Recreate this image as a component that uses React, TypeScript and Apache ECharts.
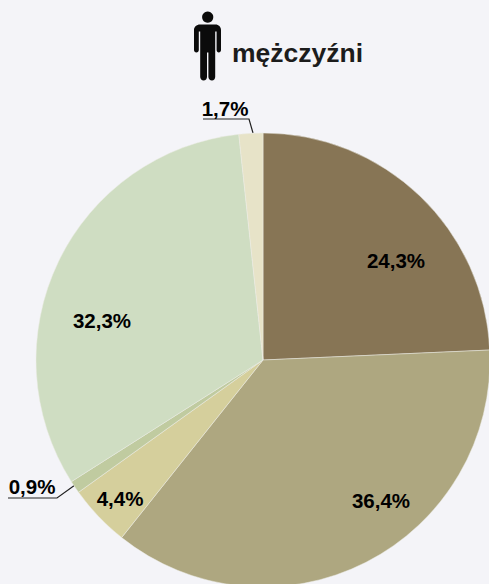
import React, { useEffect, useRef } from "react";
import * as echarts from "echarts";

const categories = ["a", "b", "c", "d", "e", "f"];
const values = [24.3, 36.4, 4.4, 0.9, 32.3, 1.7];
const labels = ["24,3%", "36,4%", "4,4%", "0,9%", "32,3%", "1,7%"];
const colors = ["#877555", "#AEA780", "#D5CF9C", "#C0CBA0", "#CFDDC2", "#E7E3C8"];
const labelSpots: [number, number][] = [
  [396, 260], [381, 500], [120, 498], [32, 486], [102, 320], [225, 108],
];
const leaders: Record<number, number[][]> = {
  3: [[8, 498], [57, 498], [75, 485]],
  5: [[203, 119], [249, 119], [253, 133]],
};

const personPath =
  "M13.7 0a5.6 5.6 0 1 1-0.01 0Z M6 13H21.5C24.6 13 27 15.4 27 18.5V38.5C27 40 26 41 24.8 41C23.6 41 22.6 40 22.6 38.5V20H21.2V65.5C21.2 67.4 19.8 69 18 69C16 69 14.4 67.4 14.4 65.5V41H13V65.5C13 67.4 11.6 69 9.6 69C7.8 69 6.2 67.4 6.2 65.5V20H4.8V38.5C4.8 40 3.8 41 2.4 41C1 41 0 40 0 38.5V18.5C0 15.4 2.6 13 6 13Z";

echarts.graphic.registerShape("person", echarts.graphic.extendPath(personPath, {}) as any);

export default function App() {
  const ref = useRef<HTMLDivElement>(null);
  useEffect(() => {
    document.body.style.margin = "0";
    document.body.style.overflow = "hidden";
    const chart = echarts.init(ref.current!, null, { renderer: "svg" });
    chart.setOption({
      animation: false,
      backgroundColor: "#F4F4F8",
      graphic: [
        { type: "person", x: 194, y: 11.5, style: { fill: "#0b0b0b" } },
        {
          type: "text", x: 232, y: 53,
          style: { text: "mężczyźni", fill: "#1c1c1c", font: 'bold 26.5px "Liberation Sans", Arial', textVerticalAlign: "middle" },
        },
      ],
      series: [
        {
          type: "pie",
          center: [263, 360],
          radius: [0, 227],
          startAngle: 90,
          clockwise: true,
          silent: true,
          itemStyle: { borderColor: "#EDEDE6", borderWidth: 0.5 },
          data: categories.map((name, i) => ({
            name,
            value: values[i],
            itemStyle: { color: colors[i] },
            labelLine: { show: leaders[i] !== undefined },
          })),
          label: {
            show: true,
            position: "outside",
            overflow: "none",
            formatter: (p: any) => labels[p.dataIndex],
            color: "#000",
            fontFamily: '"Liberation Sans", Arial',
            fontWeight: "bold",
            fontSize: 20.5,
          },
          labelLine: { show: true, lineStyle: { color: "#222", width: 1.2 } },
          labelLayout: (p: any) => ({
            x: labelSpots[p.dataIndex][0],
            y: labelSpots[p.dataIndex][1],
            align: "center",
            verticalAlign: "middle",
            hideOverlap: false,
            labelLinePoints: leaders[p.dataIndex],
          }),
        },
      ],
    });
    return () => chart.dispose();
  }, []);
  return <div ref={ref} style={{ width: 489, height: 584 }} />;
}
